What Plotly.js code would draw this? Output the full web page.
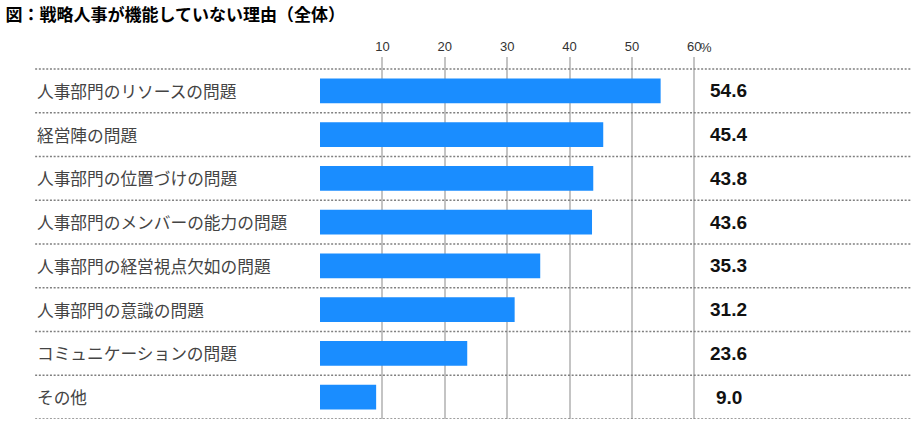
<!DOCTYPE html>
<html>
<head>
<meta charset="utf-8">
<script src="https://cdn.plot.ly/plotly-3.0.1.min.js"></script>
<style>
  body { margin: 0; background: #fff; }
  #chart { width: 920px; height: 427px; }
</style>
</head>
<body>
<div id="chart"></div>
<script>
const categories = [
    '人事部門のリソースの問題',
    '経営陣の問題',
    '人事部門の位置づけの問題',
    '人事部門のメンバーの能力の問題',
    '人事部門の経営視点欠如の問題',
    '人事部門の意識の問題',
    'コミュニケーションの問題',
    'その他'
];
const values = [54.6, 45.4, 43.8, 43.6, 35.3, 31.2, 23.6, 9.0];
const tickVals = [10, 20, 30, 40, 50, 60];
const tickLabels = ['10', '20', '30', '40', '50', '60'];

const jpFont = '"Noto Sans CJK JP", "Noto Sans", sans-serif';
const numFont = '"Liberation Sans", Arial, sans-serif';

const bars = {
    type: 'bar',
    orientation: 'h',
    x: values,
    y: categories,
    width: 0.57,
    marker: { color: '#1a8dff', line: { width: 0 } },
    hoverinfo: 'skip'
};

// dotted separators between the rows
const shapes = [];
for (let i = 0; i <= categories.length; i++) {
    shapes.push({
        type: 'line', xref: 'paper', yref: 'y',
        x0: -0.482, x1: 1, y0: i - 0.5, y1: i - 0.5,
        line: { color: '#808080', width: 1.6, dash: '2px,1.7px' }
    });
}

const annotations = [];
categories.forEach((c, i) => {
    annotations.push({
        text: c, xref: 'paper', yref: 'y', x: -0.482, y: i,
        xanchor: 'left', yanchor: 'middle', showarrow: false,
        font: { family: jpFont, size: 16.7, color: '#444' }
    });
    annotations.push({
        text: values[i].toFixed(1), xref: 'x', yref: 'y', x: 65.5, y: i,
        xanchor: 'center', yanchor: 'middle', showarrow: false,
        font: { family: numFont, size: 19, color: '#111', weight: 'bold' }
    });
});
annotations.push({
    text: '%', xref: 'x', yref: 'paper', x: 60.6, y: 1,
    xanchor: 'left', yanchor: 'middle', yshift: 9.5, showarrow: false,
    font: { family: numFont, size: 13, color: '#333' }
});

const layout = {
    width: 920,
    height: 427,
    margin: { l: 320, r: 9, t: 57, b: 8 },
    paper_bgcolor: '#fff',
    plot_bgcolor: '#fff',
    showlegend: false,
    title: {
        text: '図：戦略人事が機能していない理由（全体）',
        font: { family: jpFont, size: 17, color: '#000', weight: 'bold' },
        xref: 'container', yref: 'container',
        x: 0.006, xanchor: 'left', y: 0.965, yanchor: 'middle'
    },
    xaxis: {
        side: 'top',
        range: [0, 94.73],
        tickvals: tickVals,
        ticktext: tickLabels,
        ticks: '',
        ticklabelstandoff: 2,
        showgrid: true,
        gridcolor: '#c4c4c4',
        gridwidth: 2,
        zeroline: false,
        showline: false,
        tickfont: { family: numFont, size: 13, color: '#333' },
        fixedrange: true
    },
    yaxis: {
        type: 'category',
        categoryorder: 'array',
        categoryarray: categories,
        range: [7.5, -0.775],
        showticklabels: false,
        showgrid: false,
        zeroline: false,
        showline: false,
        fixedrange: true
    },
    shapes: shapes,
    annotations: annotations
};

Plotly.newPlot('chart', [bars], layout, { displayModeBar: false, staticPlot: true });
</script>
</body>
</html>
